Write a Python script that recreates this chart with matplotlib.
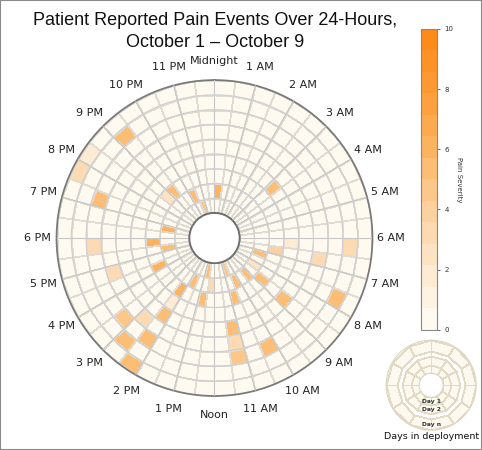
import numpy as np
import matplotlib
matplotlib.use("Agg")
import matplotlib.pyplot as plt
from matplotlib.colors import LinearSegmentedColormap
from matplotlib.patches import Rectangle

# ---------------- data ----------------
days = ["Oct 1", "Oct 2", "Oct 3", "Oct 4", "Oct 5", "Oct 6", "Oct 7", "Oct 8", "Oct 9"]
hour_labels = ["Midnight", "1 AM", "2 AM", "3 AM", "4 AM", "5 AM", "6 AM", "7 AM",
               "8 AM", "9 AM", "10 AM", "11 AM", "Noon", "1 PM", "2 PM", "3 PM",
               "4 PM", "5 PM", "6 PM", "7 PM", "8 PM", "9 PM", "10 PM", "11 PM"]
slots_per_day = 48  # half-hour bins

# pain events: day index (0 = Oct 1), half-hour slot (0 = 00:00-00:30), severity
event_day = [7, 8, 8, 6, 2, 2, 1, 0, 1, 1, 2, 1, 6, 5, 2, 2, 3, 4, 5, 6, 7, 6, 8,
             0, 2, 1, 1, 3, 0, 1, 1, 1, 1, 2, 3, 5, 2, 2, 4, 7, 4, 5, 6, 6, 7]
event_slot = [42, 40, 39, 38, 42, 41, 44, 45, 0, 37, 35, 34, 35, 33, 32, 28, 28, 28, 29, 30, 29, 28, 28,
              25, 25, 24, 27, 6, 21, 20, 18, 16, 14, 13, 12, 13, 17, 21, 17, 15, 22, 22, 22, 20, 12]
event_severity = [5.5, 2, 3.5, 5.5, 5, 2.5, 5, 4.5, 6, 6, 6, 5, 3.5, 3, 6, 6, 2, 5, 3, 4.5, 5, 5, 5,
                  5.5, 5.5, 3, 5.5, 5.5, 4.5, 5.5, 5.5, 2.5, 5.5, 4, 2, 3, 5, 5.5, 5, 5, 5, 3, 4.5, 5, 3]

# ---------------- build grid ----------------
C = np.zeros((len(days), slots_per_day))
for d, s, v in zip(event_day, event_slot, event_severity):
    C[d, s] = v

cmap = LinearSegmentedColormap.from_list(
    "pain", ["#fefaf0", "#fde7cb", "#fdcf9b", "#fcb563", "#fd9d3a", "#fd8b1a"]).resampled(14)

fig = plt.figure(figsize=(4.82, 4.50), dpi=100)
fig.patch.set_facecolor("white")

ax = fig.add_axes([0.117, 0.120, 0.656, 0.702], projection="polar")
ax.set_theta_zero_location("N")
ax.set_theta_direction(-1)

theta_edges = np.linspace(0, 2 * np.pi, slots_per_day + 1)
r_edges = np.arange(len(days) + 1)
mesh = ax.pcolormesh(theta_edges, r_edges, C, cmap=cmap, vmin=0, vmax=10,
                     edgecolors="#e0dcd4", linewidth=0.6, shading="flat")

ax.set_rorigin(-1.7)
ax.set_ylim(0, len(days))
ax.set_yticks(np.arange(1, len(days)))
ax.set_yticklabels([])
ax.set_xticks(np.deg2rad(np.arange(24) * 15))
ax.set_xticklabels(hour_labels, fontsize=8, color="#222222")
ax.tick_params(axis="x", pad=3)
ax.set_axisbelow(False)
ax.xaxis.grid(True, color="#c6c6c6", linewidth=0.8)
ax.yaxis.grid(True, color="#cfcfcf", linewidth=0.8)
ax.spines["polar"].set_color("#7a7a7a")
ax.spines["polar"].set_linewidth(1.3)
if "inner" in ax.spines:
    ax.spines["inner"].set_color("#6f6f6f")
    ax.spines["inner"].set_linewidth(1.3)
tt = np.linspace(0, 2 * np.pi, 400)
ax.plot(tt, np.zeros_like(tt), color="#6f6f6f", lw=1.3, zorder=5)

# ---------------- title ----------------
fig.text(0.446, 0.955, "Patient Reported Pain Events Over 24-Hours,", ha="center", va="center",
         fontsize=13, family="Liberation Sans", color="#111111")
fig.text(0.446, 0.906, "October 1 \u2013 October 9", ha="center", va="center",
         fontsize=13, family="Liberation Sans", color="#111111")

# ---------------- colorbar ----------------
cax = fig.add_axes([0.873, 0.267, 0.033, 0.669])
cb = fig.colorbar(mesh, cax=cax, ticks=[0, 2, 4, 6, 8, 10])
cb.ax.tick_params(labelsize=5, length=2, width=0.5, colors="#333333")
cb.outline.set_edgecolor("#888888")
cb.outline.set_linewidth(0.8)
cb.set_label("Pain Severity", rotation=-90, fontsize=5, labelpad=6, color="#333333")

# ---------------- inset legend ----------------
ax2 = fig.add_axes([0.801, 0.044, 0.187, 0.2], projection="polar")
ax2.set_theta_zero_location("N")
ax2.set_theta_direction(-1)
th12 = np.linspace(0, 2 * np.pi, 13)
inset_fill = LinearSegmentedColormap.from_list("f", ["#fdf9ef", "#fdf9ef"])
ax2.pcolormesh(th12, [12, 20, 29], np.zeros((2, 12)), cmap=inset_fill,
               edgecolors="#e3dac6", linewidth=0.6, shading="flat")
ax2.pcolormesh(np.linspace(0, 2 * np.pi, 2), [29, 34], np.zeros((1, 1)), cmap=inset_fill,
               edgecolors="#e3dac6", linewidth=0.6, shading="flat")
ax2.pcolormesh(th12, [34, 45], np.zeros((1, 12)), cmap=inset_fill,
               edgecolors="#e3dac6", linewidth=0.6, shading="flat")
ax2.set_rorigin(0)
ax2.set_ylim(12, 45)
ax2.set_xticks([])
ax2.set_yticks([])
ax2.grid(False)
for sp in ax2.spines.values():
    sp.set_color("#ddd5c2")
    sp.set_linewidth(0.8)
for name in ("start", "end"):
    if name in ax2.spines:
        ax2.spines[name].set_visible(False)
for r, lab in [(16.5, "Day 1"), (24.5, "Day 2"), (39.5, "Day n")]:
    ax2.text(np.pi, r, lab, ha="center", va="center", fontsize=4.3, fontweight="bold", color="#333333")
fig.text(0.895, 0.030, "Days in deployment", ha="center", va="center", fontsize=6.8, color="#111111")

# ---------------- frame ----------------
fig.patches.append(Rectangle((0, 0), 1, 1, transform=fig.transFigure, fill=False,
                             edgecolor="#8a8a8a", linewidth=1.5))

fig.savefig("out.png", dpi=100)
